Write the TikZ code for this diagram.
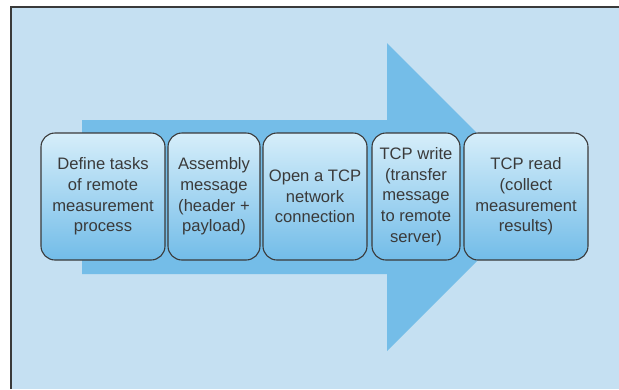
\documentclass[tikz,border=0pt]{standalone}
\usepackage{fontspec}
\setmainfont{Liberation Sans}
\usetikzlibrary{shadings}
\definecolor{panelblue}{HTML}{C5E0F2}
\definecolor{arrowblue}{HTML}{74BDE8}
\definecolor{boxtop}{HTML}{D6EEFA}
\definecolor{boxbottom}{HTML}{72BCE8}
\definecolor{frameline}{HTML}{3A3A3A}
\definecolor{inktext}{HTML}{3A3A3A}
\tikzset{
  stepbox/.style={rectangle, rounded corners=14pt, draw=frameline, line width=1.1pt,
    top color=boxtop, bottom color=boxbottom, minimum height=127pt, inner sep=0pt,
    align=center, text=inktext, font=\fontsize{16.6}{20.7}\selectfont},
}
\begin{document}
\begin{tikzpicture}[x=1pt, y=-1pt]
  \useasboundingbox (0,0) rectangle (619,389);
  % panel background with frame on left and top
  \fill[panelblue] (11,7) rectangle (619,389);
  \draw[frameline, line width=1.4pt] (11,389) -- (11,7) -- (619,7);
  % large process arrow
  \fill[arrowblue] (82,120) -- (387,120) -- (387,43) -- (541,197) -- (387,351)
    -- (387,274) -- (82,274) -- cycle;
  % process steps
  \node[stepbox, minimum width=124pt] (s1) at (103,196.5)
    {Define tasks\\of remote\\measurement\\process};
  \node[stepbox, minimum width=92pt] (s2) at (214,196.5)
    {Assembly\\message\\(header +\\payload)};
  \node[stepbox, minimum width=104pt] (s3) at (315,196.5)
    {Open a TCP\\network\\connection};
  \node[stepbox, minimum width=88pt] (s4) at (416,196.5)
    {TCP write\\(transfer\\message\\to remote\\server)};
  \node[stepbox, minimum width=124pt] (s5) at (526,196.5)
    {TCP read\\(collect\\measurement\\results)};
\end{tikzpicture}
\end{document}
